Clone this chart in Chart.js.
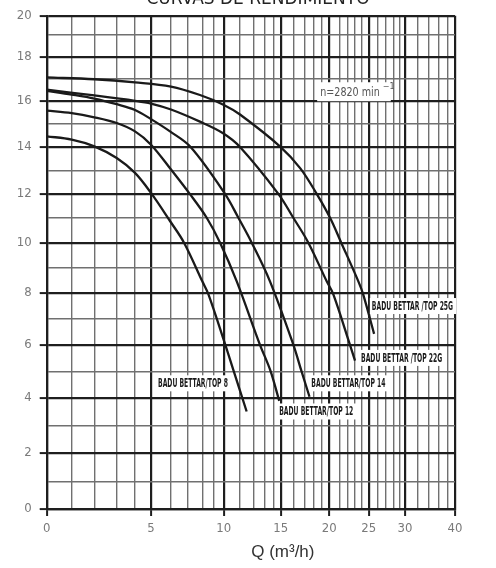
<!DOCTYPE html>
<html>
<head>
<meta charset="utf-8">
<script src="https://cdn.jsdelivr.net/npm/chart.js@4.4.4/dist/chart.umd.min.js"></script>
<style>
    html, body { margin: 0; padding: 0; background: #fff; }
    #wrap { position: relative; width: 496px; height: 568px; }
</style>
</head>
<body>
<div id="wrap"><canvas id="curves" width="496" height="568"></canvas></div>
<script>
// Q (m3/h) / H (m), one pair per pump
const q25G = [0, 2, 4, 6, 7.84, 9.97, 11, 15, 16.6, 18.35, 20.07, 21.16, 23.5, 24.2, 25.6];
const h25G = [17.05, 16.97, 16.83, 16.64, 16.26, 15.83, 15.4, 14.0, 13.08, 12.0, 11.0, 10.0, 8.46, 7.96, 6.42];

const q22G = [0, 2, 4, 5, 6, 7.8, 9.9, 11, 14.68, 16, 17.37, 19.66, 20.37, 22.3, 23.0];
const h22G = [16.5, 16.24, 16.0, 15.88, 15.62, 15.1, 14.6, 14.0, 12.0, 11.0, 10.0, 8.46, 7.96, 6.0, 5.4];

const q14 = [0, 1, 2, 3, 4, 5, 5.95, 7.2, 10.08, 10.9, 11.88, 13.63, 16.0, 16.7, 17.5];
const h14 = [16.45, 16.28, 16.1, 15.85, 15.6, 15.2, 14.67, 14.0, 12.0, 11.0, 10.0, 8.46, 6.0, 5.0, 4.05];

const q12 = [0, 1, 2, 3, 4, 5, 6, 7.14, 8.4, 9.65, 10.8, 12.6, 13.67, 14.8];
const h12 = [15.57, 15.46, 15.28, 15.03, 14.67, 14.1, 13.03, 12.0, 11.0, 10.0, 8.46, 6.0, 5.03, 3.9];

const q8 = [0, 1, 2, 3, 4, 5, 5.95, 6.78, 8.0, 8.55, 10.08, 10.6, 11.5];
const h8 = [14.46, 14.32, 14.03, 13.53, 12.89, 12.04, 10.87, 10.0, 8.46, 7.96, 6.03, 5.03, 3.52];

const curveNames = ["BADU BETTAR /TOP 25G", "BADU BETTAR /TOP 22G", "BADU BETTAR/TOP 14", "BADU BETTAR/TOP 12", "BADU BETTAR/TOP 8"];

// grid lines of the printed sheet and the ones that carry a label
const xTicks = [0, 1, 2, 3, 4, 5, 6, 7, 8, 9, 10, 11, 12, 13, 14, 15, 16, 17, 18, 19, 20,
    21, 22, 23, 24, 25, 26, 27, 28, 29, 30, 32, 34, 36, 38, 40];
const xLabels = [0, 5, 10, 15, 20, 25, 30, 40];
const yTicks = [0, 1, 2, 3, 4, 5, 6, 7, 8, 9, 10, 11, 12, 13, 14, 15, 16, 17, 18, 19, 20];
const yLabels = [0, 2, 4, 6, 8, 10, 12, 14, 16, 18, 20];

// the paper is not linear: where each grid line sits on the original sheet
const xGridRef = [46.7, 71.7, 94.3, 116.7, 135, 151, 171, 187.7, 202.3, 213.3, 223.7,
    240, 253.3, 264.3, 273.3, 280.7, 293.3, 305, 314, 321.7, 329.3,
    340, 347.7, 355, 361.7, 368.7, 377.7, 386, 394, 399.3, 405,
    417.3, 428.3, 438.3, 447.3, 455];
const yGridRef = [509, 481.7, 452.7, 425.7, 397.7, 370.7, 344, 318.3, 292.3, 266.7, 241.7,
    216.7, 192.7, 169, 145.7, 122.3, 99.3, 77, 55, 33.3, 14];

function makeWarp(values, ref) {
    const first = ref[0];
    const span = ref[ref.length - 1] - first;
    const frac = ref.map(p => (p - first) / span);
    const seg = (arr, v) => {
        let i = 0;
        while (i < arr.length - 2 && v > arr[i + 1]) {
            i++;
        }
        return i;
    };
    return {
        toFrac(v) {
            const i = seg(values, v);
            const t = (v - values[i]) / (values[i + 1] - values[i]);
            return frac[i] + t * (frac[i + 1] - frac[i]);
        },
        fromFrac(f) {
            const i = seg(frac, f);
            const t = (f - frac[i]) / (frac[i + 1] - frac[i]);
            return values[i] + t * (values[i + 1] - values[i]);
        },
        ticks: values
    };
}

const warps = {
    x: makeWarp(xTicks, xGridRef),
    y: makeWarp(yTicks, yGridRef)
};
const labelSets = { x: xLabels, y: yLabels };

class WarpScale extends Chart.LinearScale {
    static id = "warp";
    static defaults = {};

    buildTicks() {
        return warps[this.axis].ticks.map(value => ({ value }));
    }

    getPixelForValue(value) {
        return this.getPixelForDecimal(warps[this.axis].toFrac(value));
    }

    getValueForPixel(pixel) {
        return warps[this.axis].fromFrac(this.getDecimalForPixel(pixel));
    }
}
Chart.register(WarpScale);

function isLabelled(axis, value) {
    return labelSets[axis].includes(value);
}

function toPoints(qs, hs) {
    return qs.map((q, i) => ({ x: q, y: hs[i] }));
}

const series = [
    toPoints(q25G, h25G),
    toPoints(q22G, h22G),
    toPoints(q14, h14),
    toPoints(q12, h12),
    toPoints(q8, h8)
];

const tickFont = { family: "'DejaVu Sans Condensed', sans-serif", size: 13 };

function gridFor(axis) {
    return {
        color: ctx => (ctx.tick && isLabelled(axis, ctx.tick.value)) ? "#1e1e1e" : "#707070",
        lineWidth: ctx => (ctx.tick && isLabelled(axis, ctx.tick.value)) ? 2.2 : 1.4,
        tickColor: ctx => (ctx.tick && isLabelled(axis, ctx.tick.value)) ? "#1e1e1e" : "rgba(0,0,0,0)",
        tickWidth: 2,
        tickLength: 7,
        drawTicks: true
    };
}

// squeezed text, the sheet uses a very narrow lettering
function narrowText(ctx, text, x, y, squeeze) {
    ctx.save();
    ctx.translate(x, y);
    ctx.scale(squeeze, 1);
    ctx.fillText(text, 0, 0);
    ctx.restore();
}

// free text on the sheet: pump names, speed note, title and axis name
const sheetText = {
    id: "sheetText",
    afterDatasetsDraw(chart, args, opts) {
        const { ctx, scales: { x, y }, chartArea } = chart;
        ctx.save();
        ctx.textBaseline = "middle";
        ctx.textAlign = "left";

        ctx.font = "bold 13px 'DejaVu Sans Condensed', sans-serif";
        opts.notes.forEach(note => {
            const px = x.getPixelForValue(note.q);
            const py = y.getPixelForValue(note.h);
            const w = ctx.measureText(note.text).width * 0.52;
            ctx.fillStyle = "#fff";
            ctx.fillRect(px - 2, py - 8, w + 5, 16);
            ctx.fillStyle = "#1a1a1a";
            narrowText(ctx, note.text, px, py + 0.5, 0.52);
        });

        // n = 2820 min^-1
        const nx = x.getPixelForValue(opts.speed.q);
        const ny = y.getPixelForValue(opts.speed.h);
        ctx.font = "13px 'DejaVu Sans Condensed', sans-serif";
        const bw = ctx.measureText("n=2820 min").width * 0.82;
        ctx.fillStyle = "#fff";
        ctx.fillRect(nx - 3, ny - 9, bw + 14, 19);
        ctx.fillStyle = "#555";
        narrowText(ctx, "n=2820 min", nx, ny + 1, 0.82);
        ctx.font = "8px 'DejaVu Sans', sans-serif";
        ctx.fillText("\u22121", nx + bw + 3, ny - 4);

        // title, mostly cut off by the page edge
        ctx.textAlign = "center";
        ctx.textBaseline = "alphabetic";
        ctx.fillStyle = "#222";
        ctx.font = "17px 'DejaVu Sans', sans-serif";
        ctx.fillText("CURVAS DE RENDIMIENTO", 258, 3.5);

        // axis name
        ctx.textBaseline = "middle";
        ctx.fillStyle = "#333";
        ctx.font = "17px 'Liberation Sans', Arial, sans-serif";
        ctx.fillText("Q (m\u00b3/h)", (chartArea.left + chartArea.right) / 2 + 32, 552);
        ctx.restore();
    }
};

new Chart(document.getElementById("curves"), {
    type: "line",
    data: {
        datasets: series.map((points, i) => ({
            label: curveNames[i],
            data: points,
            borderColor: "#1a1a1a",
            borderWidth: 2.3,
            pointRadius: 0,
            tension: 0.35,
            fill: false
        }))
    },
    options: {
        responsive: false,
        animation: false,
        events: [],
        layout: { padding: { top: 14, right: 41, left: 0, bottom: 0 } },
        scales: {
            x: {
                type: "warp",
                position: "bottom",
                min: 0,
                max: 40,
                afterFit(scale) { scale.height = 59; },
                grid: gridFor("x"),
                border: { display: true, color: "#1e1e1e", width: 2.2 },
                ticks: {
                    autoSkip: false,
                    maxRotation: 0,
                    padding: 5,
                    color: "#7a7a7a",
                    font: tickFont,
                    callback: value => isLabelled("x", value) ? String(value) : ""
                }
            },
            y: {
                type: "warp",
                position: "left",
                min: 0,
                max: 20,
                afterFit(scale) { scale.width = 46.7; },
                grid: gridFor("y"),
                border: { display: true, color: "#1e1e1e", width: 2.2 },
                ticks: {
                    autoSkip: false,
                    padding: 8,
                    color: "#7a7a7a",
                    font: tickFont,
                    callback: value => isLabelled("y", value) ? String(value) : ""
                }
            }
        },
        plugins: {
            legend: { display: false },
            tooltip: { enabled: false },
            sheetText: {
                notes: [
                    { text: curveNames[0], q: 25.35, h: 7.5 },
                    { text: curveNames[1], q: 23.9, h: 5.5 },
                    { text: curveNames[2], q: 17.7, h: 4.55 },
                    { text: curveNames[3], q: 14.8, h: 3.52 },
                    { text: curveNames[4], q: 5.35, h: 4.55 }
                ],
                speed: { q: 18.8, h: 16.43 }
            }
        }
    },
    plugins: [sheetText]
});
</script>
</body>
</html>
